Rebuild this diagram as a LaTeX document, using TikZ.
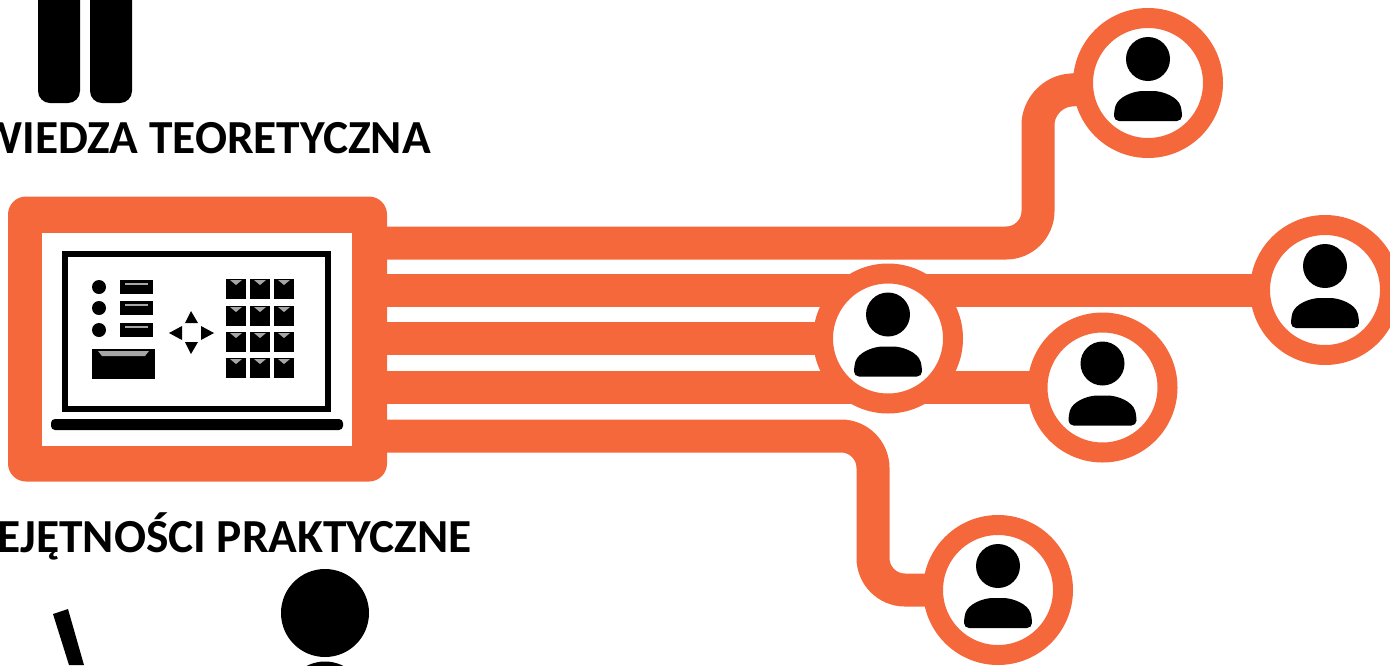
\documentclass[tikz,border=0pt]{standalone}
\usepackage{fontspec}
\setmainfont{Carlito}
\usepackage{xcolor}
\usetikzlibrary{positioning,backgrounds}
\definecolor{accent}{RGB}{244,104,60}
\tikzset{
  trace/.style={draw=accent,line width=33pt},
  person/.style={circle,draw=accent,fill=white,line width=20pt,minimum size=130pt,inner sep=0pt},
  panelbox/.style={rectangle,fill=accent,rounded corners=18pt,minimum width=379pt,minimum height=285pt,inner sep=0pt},
  heading/.style={anchor=base east,inner sep=0pt,font=\fontsize{47.4}{50}\selectfont\bfseries},
  personicon/.pic={
    \fill (0,-24) circle (22);
    \fill[rounded corners=5pt] (-34,38) -- (-34,28) .. controls (-30,14) and (-15,8) .. (0,8)
      .. controls (15,8) and (30,14) .. (34,28) -- (34,38) -- cycle;
  }
}
\begin{document}
\begin{tikzpicture}[x=1pt,y=-1pt]
\useasboundingbox (0,0) rectangle (1390,665);
\clip (0,0) rectangle (1390,665);
% book
\fill[rounded corners=12pt] (38,-30) rectangle (80,103);
\fill[rounded corners=12pt] (90,-30) rectangle (132,103);
\node[heading] (theory) at (431,153) {WIEDZA TEORETYCZNA};
% panel
\node[panelbox] (panel) at (197.5,339) {};
\fill[white] (42,233) rectangle (352,446);
% screen
\draw[line width=6pt] (65,254) rectangle (328,409);
\fill[rounded corners=4pt] (51,419) rectangle (343,430);
\foreach \y in {287,308,330} \fill (99,\y) circle (7);
\foreach \y in {280,301,323} {
  \fill (120,\y) rectangle (153,\y+14);
  \fill[black!35] (125,\y+3) rectangle (148,\y+5);
}
\fill (92,349) rectangle (155,379);
\fill[black!35] (98,351) -- (149,351) -- (145,356) -- (102,356) -- cycle;
\fill (191,311) -- (198,323) -- (185,323) -- cycle;
\fill (191,354) -- (198,342) -- (185,342) -- cycle;
\fill (169,333) -- (182,326) -- (182,340) -- cycle;
\fill (214,333) -- (201,326) -- (201,340) -- cycle;
\foreach \x in {226,250,274} \foreach \y in {279,306,332,358} {
  \fill (\x,\y) rectangle (\x+20,\y+20);
  \fill[black!35] (\x+4,\y+1) -- (\x+16,\y+1) -- (\x+10,\y+6) -- cycle;
}
% people
\node[person] (p1) at (1148,83) {};
\node[person] (p2) at (1325,290) {};
\node[person] (p3) at (1102.5,387.5) {};
\node[person] (p4) at (998,590) {};
\node[person] (p5) at (888,338.5) {};
\foreach \n in {p1,p2,p3,p4,p5} \pic at (\n) {personicon};
% connectors
\coordinate (t1) at (panel.east |- 0,243);
\coordinate (t5) at (panel.east |- 0,436);
\begin{scope}[on background layer]
\draw[trace,rounded corners=32pt] (t1) -- (1038,243) -- (1038,93) -- (p1.center);
\draw[trace] (panel.east |- p2) -- (p2.center);
\draw[trace] (panel.east |- p5) -- (p5.center);
\draw[trace] (panel.east |- p3) -- (p3.center);
\draw[trace,rounded corners=32pt] (t5) -- (873,436) -- (873,590) -- (p4.center);
\end{scope}
% bottom figure
\node[heading] (skills) at (472,552) {EJĘTNOŚCI PRAKTYCZNE};
\fill (325,613) circle (44);
\fill (325,701.5) circle (40);
\fill (53,614) -- (68,609) -- (84,665) -- (69,665) -- cycle;
\end{tikzpicture}
\end{document}
